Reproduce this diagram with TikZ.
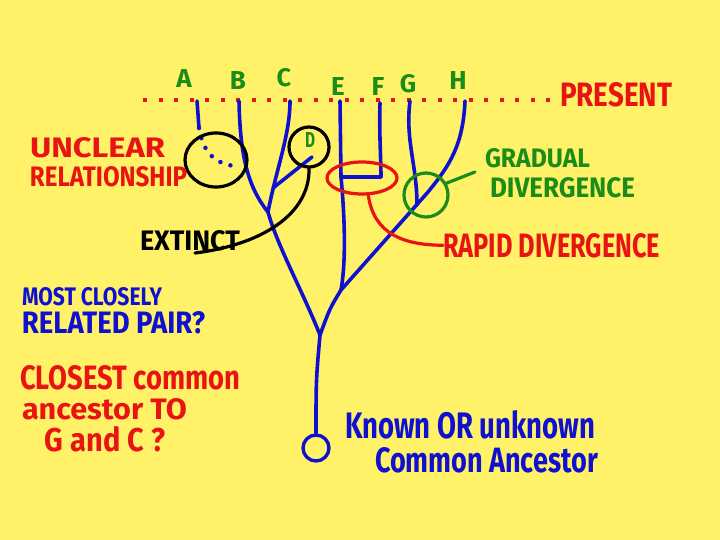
\documentclass[tikz,border=0pt]{standalone}
\usepackage{fontspec}
\setmainfont{Fira Sans}
\usepackage{graphicx}
\usetikzlibrary{shapes.geometric}
\definecolor{bg}{RGB}{255,242,104}
\definecolor{tblue}{RGB}{16,16,208}
\definecolor{tred}{RGB}{232,20,20}
\definecolor{tgreen}{RGB}{26,140,26}
\newcommand{\hw}[3]{\resizebox{#1}{#2}{\bfseries #3}}
\begin{document}
\begin{tikzpicture}[x=1pt,y=-1pt, line cap=round, line join=round,
  branch/.style={draw=tblue, line width=3.6pt},
  ring/.style={draw, line width=3.2pt, inner sep=0pt},
  lbl/.style={inner sep=0pt, outer sep=0pt, anchor=base west},
  tiplbl/.style={inner sep=0pt, outer sep=0pt, anchor=base, text=tgreen}]
\fill[bg] (0,0) rectangle (720,540);
\useasboundingbox (0,0) rectangle (720,540);

% present line
\node[lbl, text=tred] (present) at (560,107) {\hw{112pt}{24pt}{PRESENT}};
\coordinate (pL) at (143,100);
\coordinate (pR) at (553,100);
\draw[tred, line width=4pt, line cap=butt, dash pattern=on 4pt off 11.5pt] (pL) -- (pR);

% tip labels
\node[tiplbl] (labA) at (184,88) {\hw{!}{18pt}{A}};
\node[tiplbl] (labB) at (238,90) {\hw{!}{18pt}{B}};
\node[tiplbl] (labC) at (284,87) {\hw{!}{18pt}{C}};
\node[tiplbl] (labE) at (338,96) {\hw{!}{18pt}{E}};
\node[tiplbl] (labF) at (378,96) {\hw{!}{18pt}{F}};
\node[tiplbl] (labG) at (408,93) {\hw{!}{18pt}{G}};
\node[tiplbl] (labH) at (458,90) {\hw{!}{18pt}{H}};

% tree coordinates
\coordinate (tA) at (197,101);
\coordinate (a1) at (199,128);
\coordinate (a2) at (234,166);
\coordinate (tB) at (239,101);
\coordinate (tC) at (290,101);
\coordinate (jBC) at (268,212);
\coordinate (dB) at (273,188);
\coordinate (dT) at (312,157);
\coordinate (jR) at (320,335);
\coordinate (tE) at (340,101);
\coordinate (jEF) at (341,177);
\coordinate (fC) at (381,177);
\coordinate (tF) at (380,103);
\coordinate (jEH) at (341,290);
\coordinate (tG) at (410,101);
\coordinate (gE) at (417,205);
\coordinate (tH) at (465,101);
\coordinate (hK) at (428,192);
\node[ring, circle, draw=tblue, line width=3.4pt, minimum size=26pt] (root) at (316,448) {};

% branches
\draw[branch] (tA) -- (a1);
\draw[tblue, line width=4.5pt, line cap=round, dash pattern=on 0pt off 10.5pt] (a1) .. controls (203,152) and (214,163) .. (a2);
\draw[branch] (tB) .. controls (240,150) and (246,185) .. (jBC);
\draw[branch] (tC) .. controls (290,135) and (276,170) .. (jBC);
\draw[branch] (dB) .. controls (292,172) .. (dT);
\draw[branch] (jBC) .. controls (277,245) and (302,290) .. (jR);
\draw[branch] (tE) -- (jEF) .. controls (345,220) and (346,262) .. (jEH);
\draw[branch] (tF) .. controls (379,130) and (381,160) .. (fC) -- (jEF);
\draw[branch] (tG) .. controls (405,140) and (417,165) .. (gE);
\draw[branch] (tH) .. controls (463,145) and (450,165) .. (hK) -- (jEH);
\draw[branch] (jEH) .. controls (330,308) .. (jR);
\draw[branch] (jR) .. controls (316,380) .. (root.north);

% unclear relationship
\node[ring, ellipse, draw=black, minimum width=62pt, minimum height=54pt] (uc) at (216,160) {};
\node[lbl, text=tred] (unc1) at (30,158) {\hw{135pt}{20pt}{UNCLEAR}};
\node[lbl, text=tred] (unc2) at (30,186) {\hw{157pt}{20pt}{RELATIONSHIP}};

% extinct
\node[ring, circle, draw=black, minimum size=40pt] (dc) at (309,147) {};
\node[inner sep=0pt, text=tgreen] (labD) at (310,140) {\hw{10pt}{15pt}{D}};
\node[lbl] (ext) at (140,250) {\hw{100pt}{20pt}{EXTINCT}};
\coordinate (extU) at (195,253);
\draw[black, line width=3.2pt] (dc.south) .. controls (310,215) and (260,245) .. (extU);

% rapid divergence
\node[ring, ellipse, draw=tred, minimum width=70pt, minimum height=32pt] (rc) at (362,178) {};
\node[lbl, text=tred] (rapid) at (443,257) {\hw{217pt}{24pt}{RAPID DIVERGENCE}};
\draw[tred, line width=3.2pt] (rc.290) .. controls (374,235) and (405,245) .. (rapid.west);

% gradual divergence
\node[ring, circle, draw=tgreen, minimum size=44pt] (gc) at (426,195) {};
\node[lbl, text=tgreen] (grad1) at (485,168) {\hw{105pt}{19pt}{GRADUAL}};
\node[lbl, text=tgreen] (grad2) at (490,197) {\hw{145pt}{20pt}{DIVERGENCE}};
\coordinate (gL) at (475,172);
\draw[tgreen, line width=3.2pt] (gc.30) -- (gL);

% questions
\node[lbl, text=tblue] (q1a) at (22,305) {\hw{140pt}{18pt}{MOST CLOSELY}};
\node[lbl, text=tblue] (q1b) at (22,333) {\hw{183pt}{22pt}{RELATED PAIR?}};
\node[lbl, text=tred] (q2a) at (20,389) {\hw{220pt}{24pt}{CLOSEST common}};
\node[lbl, text=tred] (q2b) at (22,419) {\hw{165pt}{21pt}{ancestor TO}};
\node[lbl, text=tred] (q2c) at (45,451) {\hw{120pt}{25pt}{G and C ?}};

% ancestor
\node[lbl, text=tblue] (anc1) at (345,438) {\hw{250pt}{28pt}{Known OR unknown}};
\node[lbl, text=tblue] (anc2) at (375,472) {\hw{223pt}{25pt}{Common Ancestor}};
\end{tikzpicture}
\end{document}
